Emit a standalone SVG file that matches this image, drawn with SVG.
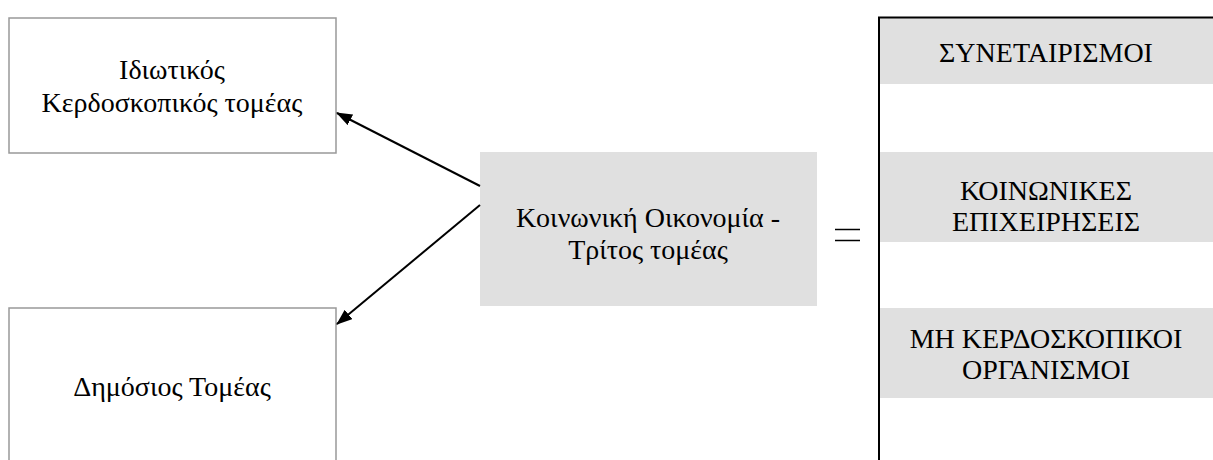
<svg xmlns="http://www.w3.org/2000/svg" width="1213" height="460" viewBox="0 0 1213 460">
<style>
.t{font-family:"Liberation Serif","Times New Roman",serif;font-size:28px;fill:#000;text-anchor:middle}
.box{fill:#fff;stroke:#999;stroke-width:1.5}
.gray{fill:#e0e0e0}
.conn{stroke:#000;stroke-width:2;fill:none}
</style>
<defs>
<marker id="ah" viewBox="0 0 16 12" refX="15" refY="6" markerWidth="8" markerHeight="6" orient="auto" markerUnits="strokeWidth">
<path d="M0,0 L16,6 L0,12 z" fill="#000"/>
</marker>
</defs>
<rect width="1213" height="460" fill="#fff"/>
<g id="private">
<rect class="box" x="9" y="18" width="327" height="135"/>
<text class="t" x="172" y="79">Ιδιωτικός</text>
<text class="t" x="172" y="112">Κερδοσκοπικός τομέας</text>
</g>
<g id="public">
<path class="box" d="M9,470 L9,308 L336,308 L336,470"/>
<text class="t" x="172" y="396">Δημόσιος Τομέας</text>
</g>
<g id="social">
<rect class="gray" x="480" y="152" width="337" height="154"/>
<text class="t" x="648" y="227">Κοινωνική Οικονομία -</text>
<text class="t" x="648" y="259">Τρίτος τομέας</text>
</g>
<g id="equals">
<line x1="835" y1="229.5" x2="860" y2="229.5" stroke="#000" stroke-width="1.5"/>
<line x1="835" y1="240.5" x2="860" y2="240.5" stroke="#000" stroke-width="1.5"/>
</g>
<g id="components">
<rect class="gray" x="879" y="17" width="334" height="67"/>
<rect class="gray" x="879" y="152" width="334" height="90"/>
<rect class="gray" x="879" y="308" width="334" height="90"/>
<path d="M879,470 L879,17.5 L1213,17.5" stroke="#000" stroke-width="2" fill="none"/>
<text class="t" x="1046" y="62">ΣΥΝΕΤΑΙΡΙΣΜΟΙ</text>
<text class="t" x="1046" y="200">ΚΟΙΝΩΝΙΚΕΣ</text>
<text class="t" x="1046" y="231">ΕΠΙΧΕΙΡΗΣΕΙΣ</text>
<text class="t" x="1046" y="348">ΜΗ ΚΕΡΔΟΣΚΟΠΙΚΟΙ</text>
<text class="t" x="1046" y="379">ΟΡΓΑΝΙΣΜΟΙ</text>
</g>
<g id="connectors">
<line class="conn" x1="480" y1="186" x2="337" y2="113" marker-end="url(#ah)"/>
<line class="conn" x1="480" y1="205" x2="337" y2="324" marker-end="url(#ah)"/>
</g>
</svg>
